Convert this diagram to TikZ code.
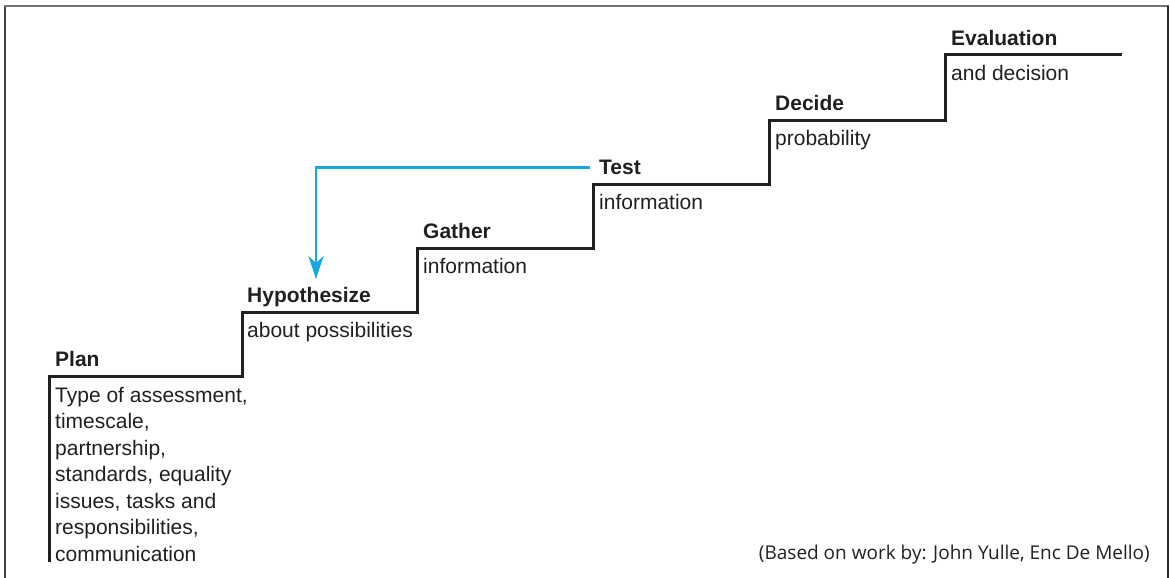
\documentclass[tikz,border=0pt]{standalone}
\usepackage{fontspec}
\setmainfont{Liberation Sans}
\newfontfamily\notefont{Open Sans}
\usetikzlibrary{arrows.meta}
\definecolor{ink}{RGB}{35,31,32}
\definecolor{sky}{RGB}{22,166,226}
\begin{document}
\begin{tikzpicture}[x=1pt,y=-1pt,
  stair/.style={draw=ink,line width=3pt,line join=miter},
  steplabel/.style={anchor=base west,inner sep=0pt,text=ink,font=\fontsize{21}{26.5}\selectfont\bfseries},
  stepbody/.style={anchor=base west,inner sep=0pt,text=ink,align=left,font=\fontsize{21}{26.5}\selectfont},
  feedback/.style={draw=sky,line width=2.5pt,-{Stealth[length=23pt,width=15pt,inset=7pt]}}]
\useasboundingbox (0,0) rectangle (1170,578);
% open frame (no bottom edge)
\draw[draw=black!75,line width=2.5pt] (5,578) -- (5,6);
\draw[draw=black!55,line width=2pt] (4,6) -- (1169,6);
\draw[draw=black!85,line width=2pt] (1168,6) -- (1168,578);
% the staircase
\draw[stair] (49,562) |- (242,376) |- (417,312) |- (593,248) |- (769,184) |- (945,120) |- (1122,55);
% step titles
\node[steplabel] (plan) at (55,366.5) {Plan};
\node[steplabel] (hyp)  at (247,302.5) {Hypothesize};
\node[steplabel] (gath) at (423,238.5) {Gather};
\node[steplabel] (test) at (599,174.5) {Test};
\node[steplabel] (dec)  at (775,110.5) {Decide};
\node[steplabel] (eval) at (951,45.5) {Evaluation};
% step descriptions (a multi-line node sits on the baseline of its last line)
\node[stepbody] (planT) at (55,561) {Type of assessment,\\timescale,\\partnership,\\standards, equality\\issues, tasks and\\responsibilities,\\communication};
\node[stepbody] (hypT)  at (247,337) {about possibilities};
\node[stepbody] (gathT) at (423,273) {information};
\node[stepbody] (testT) at (599,209) {information};
\node[stepbody] (decT)  at (775,145) {probability};
\node[stepbody] (evalT) at (951,81) {and decision};
% feedback loop from testing back to the hypothesis
\coordinate (turn) at (316,168);
\draw[feedback,shorten <=9pt,shorten >=8pt] (test.west) -- (test.west -| turn) -- (turn |- hyp.north);
% source note
\node[anchor=base east,inner sep=0pt,text=ink,font=\notefont\fontsize{19}{22}\selectfont] (foot) at (1150,559) {(Based on work by: John Yulle, Enc De Mello)};
\end{tikzpicture}
\end{document}
